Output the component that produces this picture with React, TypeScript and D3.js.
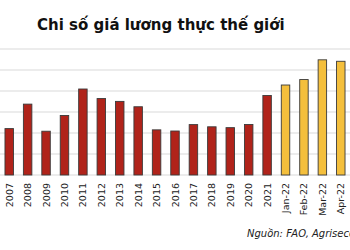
import React from "react";
import * as d3 from "d3";

const categories = ["2007","2008","2009","2010","2011","2012","2013","2014","2015","2016","2017","2018","2019","2020","2021","Jan-22","Feb-22","Mar-22","Apr-22"];
const values = [94.2,117.5,91.7,106.7,131.9,122.8,120.1,115.0,93.0,91.9,98.0,95.9,95.1,98.1,125.7,135.7,140.9,159.7,158.3];
const monthly = [false,false,false,false,false,false,false,false,false,false,false,false,false,false,false,true,true,true,true];
const gridTicks = [50,70,90,110,130,150,170];
const title = "Chi số giá lương thực thế giới";
const source = "Nguồn: FAO, Agriseco";

export default function App() {
  const W = 350, H = 250;
  const x = d3.scaleBand<string>().domain(categories).range([0, 350]).paddingInner(0.54).paddingOuter(0.27);
  const y = d3.scaleLinear().domain([50, 170]).range([175, 49]);
  return (
    <svg width={W} height={H} style={{ position: "absolute", left: 0, top: 0, background: "#fff" }}>
      <text x={37} y={30} fontFamily="DejaVu Sans" fontWeight="bold" fontSize={15} fill="#111">{title}</text>
      {gridTicks.map((t) => (
        <line key={t} x1={0} x2={W} y1={y(t)} y2={y(t)} stroke="#d9d9d9" strokeWidth={1} />
      ))}
      {categories.map((c, i) => (
        <rect key={c} x={x(c)!} y={y(values[i])} width={x.bandwidth()} height={y(50) - y(values[i])}
          fill={monthly[i] ? "#F4BF3C" : "#B0231A"} stroke="#3a3a3a" strokeWidth={0.9} />
      ))}
      {categories.map((c) => (
        <text key={c} transform={`translate(${x(c)! + x.bandwidth() / 2 + 3.5},183) rotate(-90)`}
          textAnchor="end" fontFamily="DejaVu Sans" fontSize={9.5} fill="#222">{c}</text>
      ))}
      <text x={247} y={237} fontFamily="DejaVu Sans" fontStyle="italic" fontSize={10} fill="#222">{source}</text>
    </svg>
  );
}
